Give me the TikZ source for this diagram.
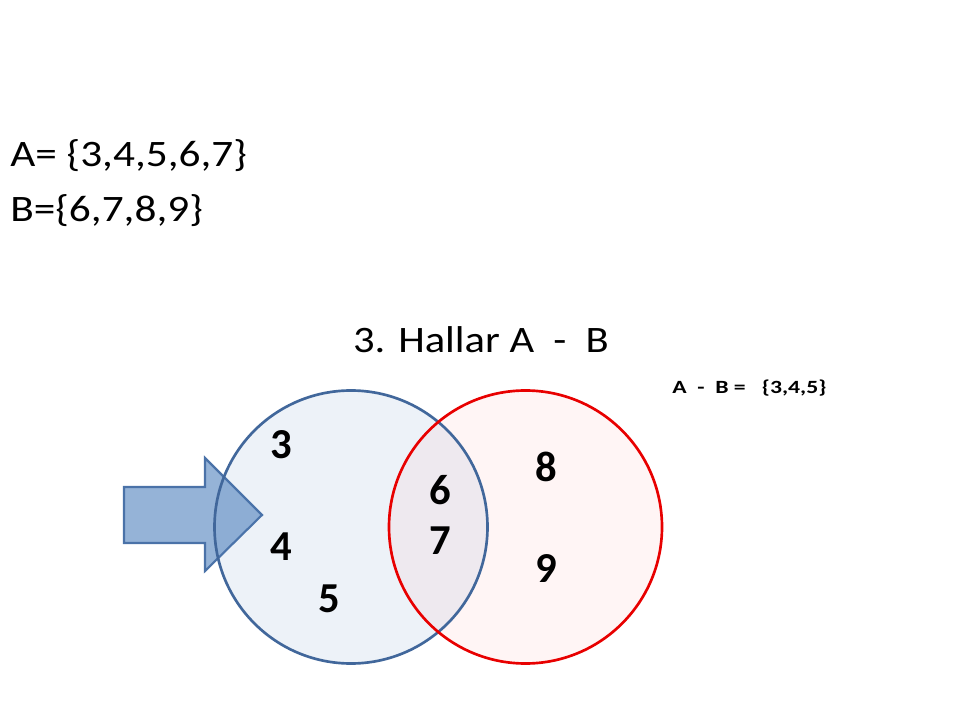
\documentclass[tikz,border=0pt]{standalone}
\usepackage{graphicx}
\usepackage{fontspec}
\setmainfont{Carlito}
\definecolor{arrowfill}{RGB}{149,179,215}
\definecolor{arrowline}{RGB}{74,114,168}
\definecolor{setA}{RGB}{79,129,189}
\definecolor{setAline}{RGB}{65,103,155}
\definecolor{setBline}{RGB}{232,0,0}
\tikzset{
  big/.style={font=\fontsize{28pt}{32pt}\selectfont, inner sep=0pt},
  num/.style={font=\fontsize{32pt}{36pt}\selectfont\bfseries, inner sep=0pt},
  small/.style={font=\fontsize{14pt}{16pt}\selectfont\bfseries, inner sep=0pt},
}
\begin{document}
\begin{tikzpicture}[x=0.75pt,y=-0.75pt]
\useasboundingbox (0,0) rectangle (960,720);
% arrow
\draw[fill=arrowfill, draw=arrowline, line width=1.6pt, line join=miter]
  (124,487) -- (205,487) -- (205,458) -- (262,515) -- (205,571) -- (205,543) -- (124,543) -- cycle;
% circle fills
\fill[setA, fill opacity=0.1] (351,527) circle (136.5);
\fill[red, fill opacity=0.04] (525.5,527) circle (136.5);
% circle borders
\node[circle, draw=setAline, line width=2pt, minimum size=273*0.75pt, inner sep=0pt] (A) at (351,527) {};
\node[circle, draw=setBline, line width=2pt, minimum size=273*0.75pt, inner sep=0pt] (B) at (525.5,527) {};
% texts
\node[big, anchor=base west] (defA) at (10,167) {\scalebox{1.16}[1]{A= \{3,4,5,6,7\}}};
\node[big, anchor=base west] (defB) at (10,222) {\scalebox{1.16}[1]{B=\{6,7,8,9\}}};
\node[big, anchor=base] (title) at (481,352) {\scalebox{1.14}[1]{3. Hallar A\ \ -\ \ B}};
\node[small, anchor=base west] (res) at (672,393) {\scalebox{1.27}[1]{A\ \ -\ \ B =\ \ \ \{3,4,5\}}};
% numbers
\node[num] (n3) at (281,445) {3};
\node[num] (n4) at (281,547) {4};
\node[num] (n5) at (329,599) {5};
\node[num] (n6) at (440,490) {6};
\node[num] (n7) at (440,541) {7};
\node[num] (n8) at (546,467) {8};
\node[num] (n9) at (546,569) {9};
\end{tikzpicture}
\end{document}
